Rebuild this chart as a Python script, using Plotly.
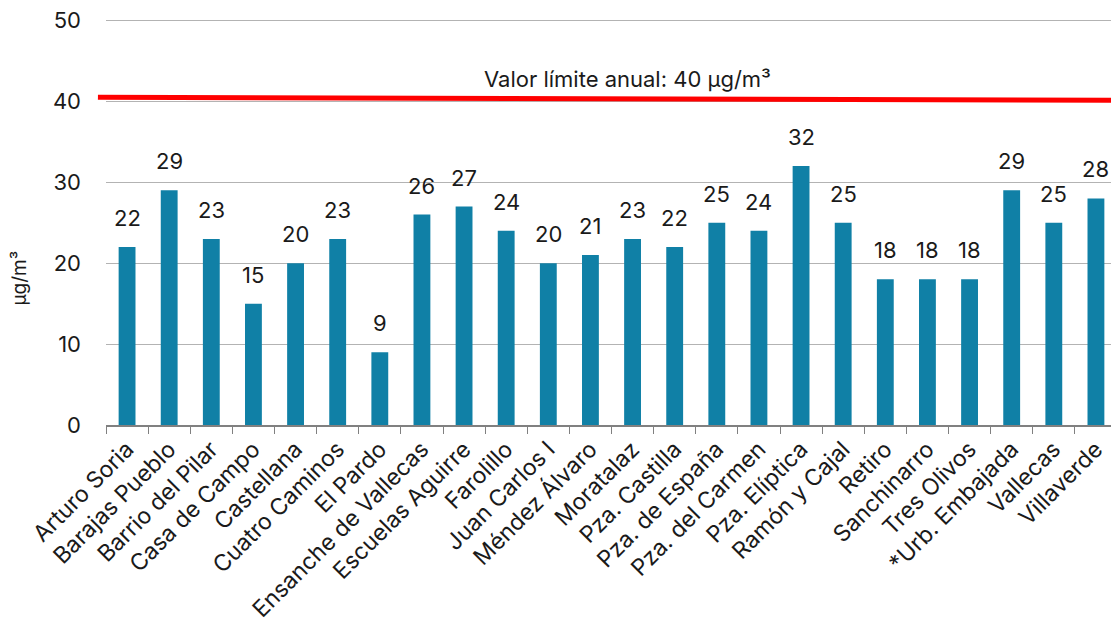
import plotly.graph_objects as go

stations = ["Arturo Soria", "Barajas Pueblo", "Barrio del Pilar", "Casa de Campo", "Castellana",
            "Cuatro Caminos", "El Pardo", "Ensanche de Vallecas", "Escuelas Aguirre", "Farolillo",
            "Juan Carlos I", "Méndez Álvaro", "Moratalaz", "Pza. Castilla", "Pza. de España",
            "Pza. del Carmen", "Pza. Elíptica", "Ramón y Cajal", "Retiro", "Sanchinarro",
            "Tres Olivos", "*Urb. Embajada", "Vallecas", "Villaverde"]
values = [22, 29, 23, 15, 20, 23, 9, 26, 27, 24, 20, 21, 23, 22, 25, 24, 32, 25, 18, 18, 18, 29, 25, 28]
limit_value = 40
limit_label = "Valor límite anual: 40 µg/m³"
y_title = "µg/m³"
y_ticks = [0, 10, 20, 30, 40, 50]

FONT = "Inter, Lato, sans-serif"
TXT = "#1a1a1a"

fig = go.Figure()
fig.add_trace(go.Bar(
    x=stations, y=values, width=0.4,
    marker=dict(color="#1080a6", line=dict(width=0)),
    hoverinfo="x+y",
))

for s, v in zip(stations, values):
    fig.add_annotation(x=s, y=v, text=str(v), showarrow=False, yshift=29,
                       yanchor="middle", xanchor="center",
                       font=dict(size=22, color=TXT, family=FONT))

fig.add_shape(type="line", xref="paper", yref="y", x0=-0.008, x1=1.002,
              y0=limit_value + 0.5, y1=limit_value + 0.12,
              line=dict(color="#ff0000", width=5), layer="above")
fig.add_annotation(xref="paper", yref="y", x=0.516, y=limit_value + 2.8,
                   text=limit_label, showarrow=False,
                   font=dict(size=22, color=TXT, family=FONT))
fig.add_annotation(xref="paper", yref="y", x=0, xshift=-86, y=18.1,
                   text=y_title, textangle=-90, showarrow=False,
                   xanchor="center", yanchor="middle",
                   font=dict(size=19, color=TXT, family=FONT))

fig.update_layout(
    width=1111, height=620,
    margin=dict(l=98, r=2, t=10, b=203, autoexpand=False),
    paper_bgcolor="white", plot_bgcolor="white",
    showlegend=False,
    font=dict(family=FONT, color=TXT),
    xaxis=dict(
        range=[-0.5, len(stations) - 0.5],
        tickangle=-45, tickfont=dict(size=23, family=FONT, color=TXT),
        showgrid=False, showline=True, linecolor="#808080", linewidth=1.5,
        ticks="outside", tickson="boundaries", ticklen=7, tickcolor="#808080",
        automargin=False,
    ),
    yaxis=dict(
        range=[0, 50.3], tickvals=y_ticks,
        tickfont=dict(size=22, family=FONT, color=TXT),
        showgrid=True, gridcolor="#b3b3b3", gridwidth=1,
        zeroline=False, showline=False, ticks="", ticklabelstandoff=24,
        ticklabeloverflow="allow",
        automargin=False,
    ),
)

fig.write_html("out.html")
